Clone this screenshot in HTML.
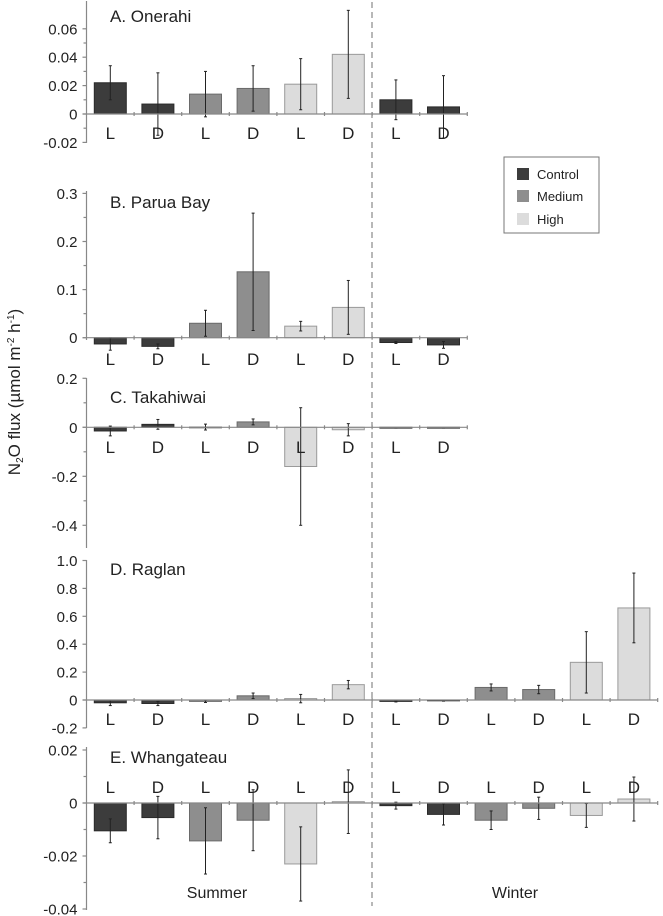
<!DOCTYPE html>
<html><head><meta charset="utf-8"><style>
html,body{margin:0;padding:0;background:#fff}
svg{display:block;font-family:"Liberation Sans",sans-serif}
</style></head><body>
<svg id="chart" width="663" height="916" viewBox="0 0 663 916">
<line x1="372" y1="2" x2="372" y2="906" stroke="#888" stroke-width="1.2" stroke-dasharray="6,4"/>
<text transform="translate(20,392) rotate(-90)" text-anchor="middle" font-size="17" fill="#222">N<tspan font-size="10" dy="3">2</tspan><tspan dy="-3">O flux (µmol m</tspan><tspan font-size="10" dy="-6">-2</tspan><tspan dy="6"> h</tspan><tspan font-size="10" dy="-6">-1</tspan><tspan dy="6">)</tspan></text>
<g>
<rect x="504" y="157" width="95" height="76" fill="#fff" stroke="#777" stroke-width="1"/>
<rect x="517" y="168" width="12" height="12" fill="#3c3c3c"/><text x="537" y="179" font-size="13" fill="#222">Control</text>
<rect x="517" y="190" width="12" height="12" fill="#8e8e8e"/><text x="537" y="201" font-size="13" fill="#222">Medium</text>
<rect x="517" y="213" width="12" height="12" fill="#dcdcdc"/><text x="537" y="224" font-size="13" fill="#222">High</text>
</g>
<text x="217" y="898" text-anchor="middle" font-size="16" fill="#222">Summer</text>
<text x="515" y="898" text-anchor="middle" font-size="16" fill="#222">Winter</text>
</svg>
<script>
const categories = ["L","D","L","D","L","D","L","D","L","D","L","D"];
const treatments = ["control","control","medium","medium","high","high","control","control","medium","medium","high","high"];
const onerahiValues = [0.022,0.007,0.014,0.018,0.021,0.042,0.010,0.005];
const onerahiErrors = [0.012,0.022,0.016,0.016,0.018,0.031,0.014,0.022];
const paruaValues = [-0.013,-0.018,0.030,0.137,0.024,0.063,-0.010,-0.015];
const paruaErrors = [0.013,0.005,0.027,0.122,0.010,0.056,0.002,0.007];
const takahiwaiValues = [-0.015,0.012,0.001,0.022,-0.160,-0.010,-0.002,-0.002];
const takahiwaiErrors = [0.020,0.020,0.012,0.012,0.240,0.025,0.001,0.001];
const raglanValues = [-0.020,-0.025,-0.010,0.030,0.010,0.110,-0.010,-0.005,0.090,0.075,0.270,0.660];
const raglanErrors = [0.020,0.015,0.008,0.020,0.030,0.030,0.004,0.003,0.025,0.030,0.220,0.250];
const whangValues = [-0.0105,-0.0055,-0.0143,-0.0065,-0.023,0.0005,-0.001,-0.0043,-0.0065,-0.002,-0.0047,0.0015];
const whangErrors = [0.0045,0.008,0.0125,0.0115,0.014,0.012,0.0013,0.004,0.0035,0.0042,0.0045,0.0083];
const onerahiTicks = [0.06,0.04,0.02,0,-0.02];
const paruaTicks = [0.3,0.2,0.1,0];
const takahiwaiTicks = [0.2,0,-0.2,-0.4];
const raglanTicks = [1.0,0.8,0.6,0.4,0.2,0,-0.2];
const whangTicks = [0.02,0,-0.02,-0.04];

const NS="http://www.w3.org/2000/svg";
const svg=document.getElementById('chart');
const fills={control:"#3c3c3c",medium:"#8e8e8e",high:"#dcdcdc"};
const strokes={control:"#2a2a2a",medium:"#6a6a6a",high:"#9a9a9a"};
const X0=86.5, SLOT=47.6, BW=32;
function mk(tag,attrs,parent){const e=document.createElementNS(NS,tag);for(const k in attrs)e.setAttribute(k,attrs[k]);parent.appendChild(e);return e;}

const panels=[
 {key:"onerahi",title:"A. Onerahi",vals:onerahiValues,errs:onerahiErrors,ticks:onerahiTicks,dec:2,zeroY:114,unit:0.02,unitPx:28.4,top:1,bottom:143,titleY:22,labY:139,n:8,minor:0.01},
 {key:"parua",title:"B. Parua Bay",vals:paruaValues,errs:paruaErrors,ticks:paruaTicks,dec:1,zeroY:337.7,unit:0.1,unitPx:48.1,top:191,bottom:340,titleY:208,labY:365,n:8,minor:0.05},
 {key:"takahiwai",title:"C. Takahiwai",vals:takahiwaiValues,errs:takahiwaiErrors,ticks:takahiwaiTicks,dec:1,zeroY:427.3,unit:0.2,unitPx:49,top:378,bottom:548,titleY:403,labY:453,n:8,minor:0.1},
 {key:"raglan",title:"D. Raglan",vals:raglanValues,errs:raglanErrors,ticks:raglanTicks,dec:1,zeroY:700,unit:0.2,unitPx:27.9,top:560,bottom:728,titleY:575,labY:725,n:12,minor:null},
 {key:"whangateau",title:"E. Whangateau",vals:whangValues,errs:whangErrors,ticks:whangTicks,dec:2,zeroY:803,unit:0.02,unitPx:53,top:747,bottom:910,titleY:763,labY:793,n:12,minor:0.01}
];

panels.forEach(p=>{
 const g=mk('g',{},svg);
 
 
 const y=v=>p.zeroY - v/p.unit*p.unitPx;
 const xc=i=>X0+SLOT*(i+0.5);
 const xEnd=X0+SLOT*p.n;
 p.vals.forEach((v,i)=>{
  const t=treatments[i];
  const y0=y(0), y1=y(v);
  const r=mk('rect',{x:xc(i)-BW/2,y:Math.min(y0,y1),width:BW,height:Math.max(Math.abs(y1-y0),0.8),fill:fills[t],stroke:strokes[t],'stroke-width':1},g);
  
  
  const e=p.errs[i], ya=y(v+e), yb=y(v-e);
  const eg=mk('g',{stroke:"#222",'stroke-width':1},g);
  
  
  mk('line',{x1:xc(i),x2:xc(i),y1:ya,y2:yb},eg);
  mk('line',{x1:xc(i)-1.5,x2:xc(i)+1.5,y1:ya,y2:ya},eg);
  mk('line',{x1:xc(i)-1.5,x2:xc(i)+1.5,y1:yb,y2:yb},eg);
 });
 const ax=mk('g',{stroke:"#888",'stroke-width':1.2},g);
 
 
 mk('line',{x1:X0,x2:X0,y1:p.top,y2:p.bottom},ax);
 mk('line',{x1:X0-4,x2:xEnd,y1:y(0),y2:y(0)},ax);
 for(let i=1;i<=p.n;i++) mk('line',{x1:X0+SLOT*i,x2:X0+SLOT*i,y1:y(0)-2,y2:y(0)+2},ax);
 p.ticks.forEach(t=>{
  mk('line',{x1:X0-4,x2:X0,y1:y(t),y2:y(t)},ax);
  if(p.minor){const ym=y(t-p.minor); if(ym<=p.bottom) mk('line',{x1:X0-3,x2:X0,y1:ym,y2:ym},ax);}
  const lab=mk('text',{x:X0-9,y:y(t)+5.5,'text-anchor':'end','font-size':15,fill:"#222"},g);
  lab.textContent = t===0?"0":t.toFixed(p.dec);
  
  
 });
 const tt=mk('text',{x:110,y:p.titleY,'font-size':17,fill:"#222"},g);
 tt.textContent=p.title;
 
 
 for(let i=0;i<p.n;i++){
  const l=mk('text',{x:xc(i),y:p.labY,'text-anchor':'middle','font-size':17,fill:"#222"},g);
  l.textContent=categories[i];
  
  
 }
});
</script>
</body></html>
